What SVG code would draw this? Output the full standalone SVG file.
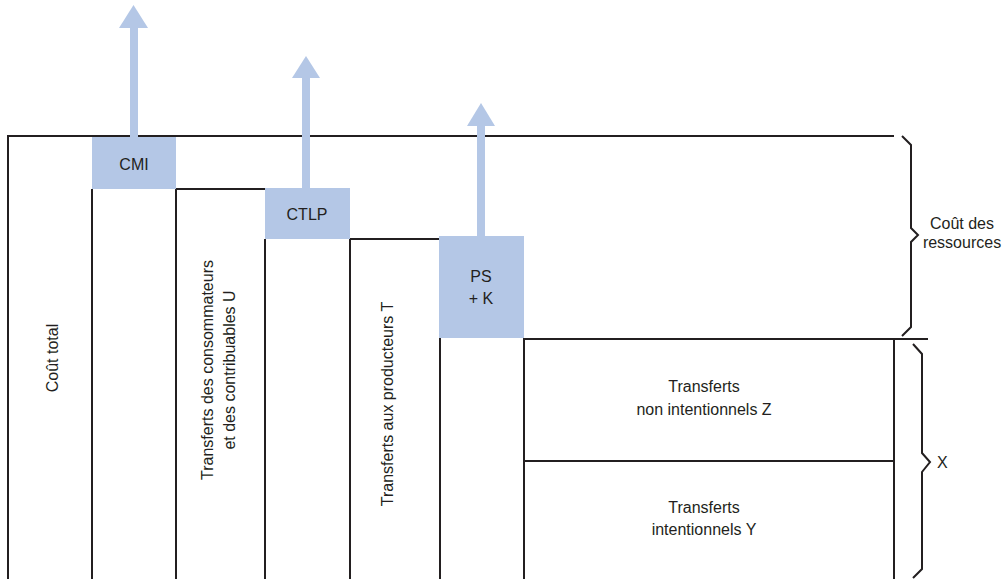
<svg xmlns="http://www.w3.org/2000/svg" width="1005" height="579" viewBox="0 0 1005 579">
<style>
.ln{stroke:#231f20;stroke-width:2;fill:none}
.bx{fill:#b4c7e6}
.t{font-family:"Liberation Sans",Arial,sans-serif;font-size:16px;fill:#231f20}
.m{text-anchor:middle}
</style>
<rect width="1005" height="579" fill="#fff"/>
<g id="frame" class="ln">
<polyline points="8,579 8,136 894,136"/>
<line x1="92" y1="189" x2="92" y2="579"/>
<polyline points="176,579 176,189 265,189"/>
<line x1="265" y1="239" x2="265" y2="579"/>
<polyline points="350,579 350,239 440,239"/>
<line x1="440" y1="338" x2="440" y2="579"/>
<polyline points="524,579 524,339 928,339"/>
<line x1="894" y1="339" x2="894" y2="579"/>
<line x1="524" y1="461" x2="894" y2="461"/>
</g>
<g id="connectors">
<g class="bx">
<rect x="130" y="27" width="8" height="112"/>
<polygon points="119,28 148,28 133.5,5"/>
<rect x="302" y="77" width="8" height="113"/>
<polygon points="292,78 320,78 306,56"/>
<rect x="477" y="125" width="8" height="113"/>
<polygon points="467,126 495,126 481,103"/>
</g>
</g>
<g id="cmi"><rect class="bx" x="92" y="137" width="84" height="52"/><text class="t m" x="134" y="170">CMI</text></g>
<g id="ctlp"><rect class="bx" x="265" y="188" width="85" height="51"/><text class="t m" x="307" y="220">CTLP</text></g>
<g id="psk"><rect class="bx" x="439" y="236" width="85" height="102"/><text class="t m" x="481" y="282">PS</text><text class="t m" x="481" y="304">+ K</text></g>
<g id="cout-total"><text class="t m" transform="translate(58,358) rotate(-90)">Coût total</text></g>
<g id="transferts-u"><text class="t m" transform="translate(213,370) rotate(-90)">Transferts des consommateurs</text><text class="t m" transform="translate(235,370) rotate(-90)">et des contribuables U</text></g>
<g id="transferts-t"><text class="t m" transform="translate(393,404) rotate(-90)">Transferts aux producteurs T</text></g>
<g id="transferts-z"><text class="t m" x="704" y="392">Transferts</text><text class="t m" x="704" y="415">non intentionnels Z</text></g>
<g id="transferts-y"><text class="t m" x="704" y="513">Transferts</text><text class="t m" x="704" y="535">intentionnels Y</text></g>
<g id="brace-ressources"><polyline class="ln" points="902,136 911,145 911,228 918,235 911,242 911,327 902,336"/><text class="t m" x="962" y="229">Coût des</text><text class="t m" x="962" y="248">ressources</text></g>
<g id="brace-x"><polyline class="ln" points="913,344 922,354 922,453 930,462 922,472 922,569 913,578"/><text class="t" x="937" y="468">X</text></g>
</svg>
